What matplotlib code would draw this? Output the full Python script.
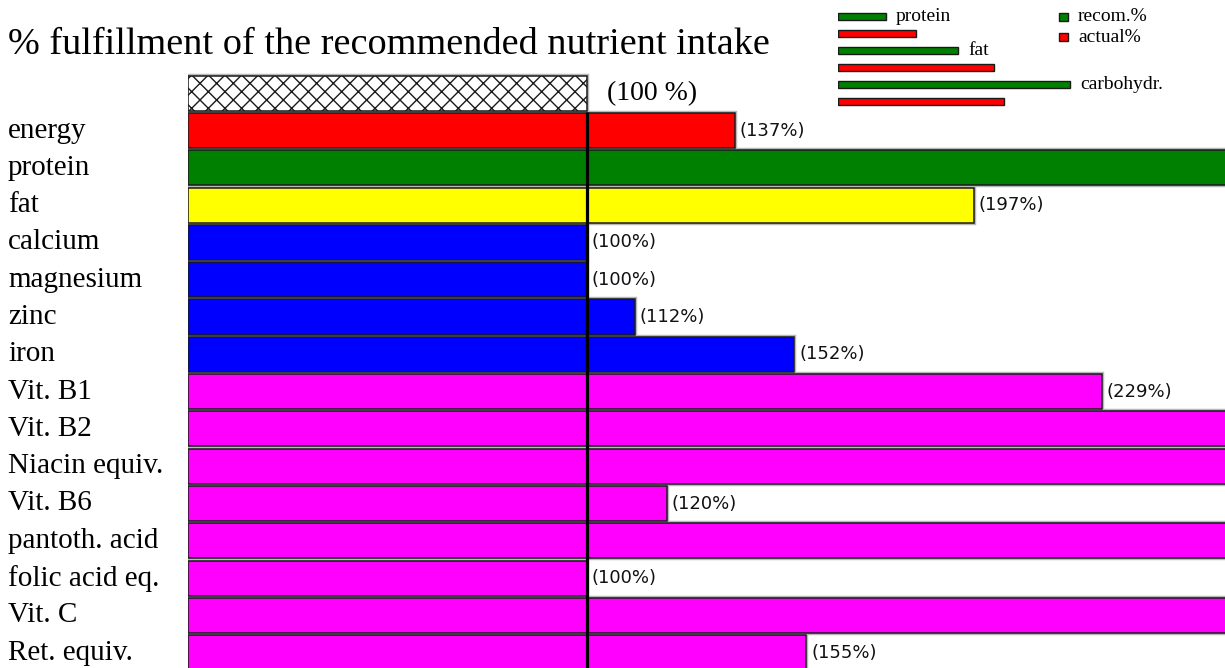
import numpy as np
import matplotlib.pyplot as plt
from matplotlib.patches import Rectangle

# main chart data: % fulfillment of recommended intake
nutrients = ['energy', 'protein', 'fat', 'calcium', 'magnesium', 'zinc', 'iron',
             'Vit. B1', 'Vit. B2', 'Niacin equiv.', 'Vit. B6', 'pantoth. acid',
             'folic acid eq.', 'Vit. C', 'Ret. equiv.']
percent = [137, 300, 197, 100, 100, 112, 152, 229, 290, 310, 120, 280, 100, 320, 155]
groups = ['energy', 'protein', 'fat', 'mineral', 'mineral', 'mineral', 'mineral',
          'vitamin', 'vitamin', 'vitamin', 'vitamin', 'vitamin', 'vitamin', 'vitamin', 'vitamin']
group_colors = {'energy': '#ff0000', 'protein': '#008000', 'fat': '#ffff00',
                'mineral': '#0000ff', 'vitamin': '#ff00ff'}

# small inset: energy share of macronutrients
macros = ['protein', 'fat', 'carbohydr.']
recom = [12, 30, 58]
actual = [19.5, 39, 41.5]

W, H = 1225, 668
SERIF = ['Liberation Serif', 'DejaVu Serif']

fig = plt.figure(figsize=(W / 100, H / 100), dpi=100)
fig.patch.set_facecolor('white')


def fx(px):
    return px / W


def fy(py):
    return 1 - py / H


# main axes: 1 % = 3.99 px, rows every 37.3 px
x0 = 188
ax = fig.add_axes([fx(x0), 0, fx(W - x0), 1])
ax.set_xlim(0, (W - x0) / 3.99)
row0, step = 130.5, 37.3
ax.set_ylim((H - row0) / step, -row0 / step)
ax.set_axis_off()

n = len(nutrients)
ypos = np.arange(n)
cols = [group_colors[g] for g in groups]

# gray outer frame then the coloured bars
ax.barh(ypos, percent, height=0.94, facecolor='none',
        edgecolor='#b8b8b8', linewidth=3.2, zorder=1)
ax.barh(ypos, percent, height=0.94, color=cols,
        edgecolor='#1a1a1a', linewidth=1.1, zorder=2)

# reference bar (100 %)
ax.barh([-1], [100], height=0.94, facecolor='none', edgecolor='#b8b8b8',
        linewidth=3.2, zorder=1)
ax.barh([-1], [100], height=0.94, facecolor='white', edgecolor='#1a1a1a',
        hatch='xx', linewidth=1.1, zorder=2)
ax.text(105, -1, '(100 %)', family=SERIF, fontsize=20, va='center', ha='left')

# 100 % line
ax.vlines(100, -0.5, n, color='black', linewidth=2.3, zorder=3)

xmax = ax.get_xlim()[1]
for i, v in enumerate(percent):
    if v < xmax:
        ax.text(v + 1.2, i, f'({v}%)', fontsize=13, va='center', ha='left',
                color='#111111', zorder=4)

# row labels on the left
for i, name in enumerate(nutrients):
    fig.text(fx(8), fy(row0 + i * step), name, family=SERIF, fontsize=21,
             va='center', ha='left')

fig.text(fx(8), fy(45), '% fulfillment of the recommended nutrient intake',
         family=SERIF, fontsize=27.5, va='center', ha='left')

# inset bar chart, 4 px per %
ins = fig.add_axes([fx(838), fy(110), fx(240), 102 / H])
ins.set_xlim(0, 60)
ins.set_ylim(5.5, -0.5)
ins.set_axis_off()
ry = np.arange(len(macros)) * 2
ins.barh(ry, recom, height=0.47, color='#008000', edgecolor='#1a1a1a', linewidth=1.0)
ins.barh(ry + 1, actual, height=0.47, color='#ff0000', edgecolor='#1a1a1a', linewidth=1.0)
for y, v, name in zip(ry, recom, macros):
    ins.text(v + 2.5, y, name, family=SERIF, fontsize=14, va='center', ha='left')

# legend squares
for py, c, lab in [(16.5, '#008000', 'recom.%'), (37, '#ff0000', 'actual%')]:
    fig.add_artist(Rectangle((fx(1059), fy(py + 4)), fx(9), 8 / H, facecolor=c,
                             edgecolor='#1a1a1a', linewidth=1.0,
                             transform=fig.transFigure))
    fig.text(fx(1078), fy(py), lab, family=SERIF, fontsize=14, va='center', ha='left')

fig.savefig('out.png', dpi=100)
